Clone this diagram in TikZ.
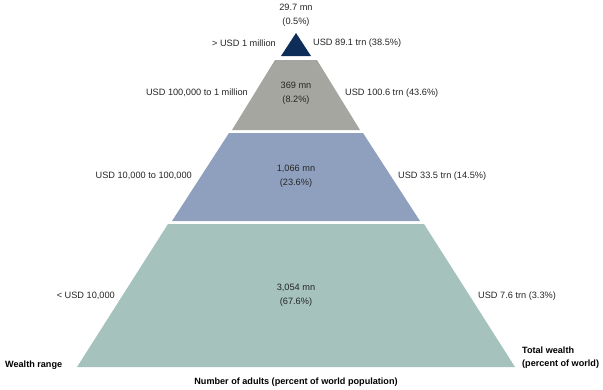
\documentclass[tikz,border=0pt]{standalone}
\usepackage{fontspec}
\setmainfont{Liberation Sans}
\usetikzlibrary{positioning}

\definecolor{richband}{RGB}{14,45,88}
\definecolor{upperband}{RGB}{166,166,160}
\definecolor{middleband}{RGB}{143,160,191}
\definecolor{lowerband}{RGB}{166,194,188}

\begin{document}
\begin{tikzpicture}[x = 1pt, y = -1pt,
                    adults/.style = {align = center,
                                    inner sep = 0pt,
                                    text = black!85,
                                    font = \fontsize{9.2}{14}\selectfont},
                    rangelabel/.style = {anchor = east,
                                    inner sep = 0pt,
                                    text = black!85,
                                    font = \fontsize{9.2}{14}\selectfont},
                    wealthlabel/.style = {anchor = west,
                                    inner sep = 0pt,
                                    text = black!85,
                                    font = \fontsize{9.2}{14}\selectfont},
                    head/.style  = {inner sep = 0pt,
                                    align = left,
                                    text = black,
                                    font = \bfseries\fontsize{9.1}{13}\selectfont}]

\useasboundingbox (0,0) rectangle (603,389);

% bands of the pyramid
\fill[richband]   (296,33) -- (311,56) -- (281,56) -- cycle;
\fill[upperband]  (275,60) -- (317,60) -- (360,130) -- (232,130) -- cycle;
\fill[middleband] (229,133) -- (363,133) -- (420,221) -- (172,221) -- cycle;
\fill[lowerband]  (168,224) -- (424,224) -- (515,367) -- (77,367) -- cycle;

% adults in each band
\node[adults] (N1) at (296,15)  {29.7 mn\\(0.5\%)};
\node[adults] (N2) at (296,93)  {369 mn\\(8.2\%)};
\node[adults] (N3) at (296,176) {1,066 mn\\(23.6\%)};
\node[adults] (N4) at (296,295) {3,054 mn\\(67.6\%)};

% wealth ranges
\node[rangelabel] (R1) at (276,43)  {> USD 1 million};
\node[rangelabel] (R2) at (248,93)  {USD 100,000 to 1 million};
\node[rangelabel] (R3) at (192,176) {USD 10,000 to 100,000};
\node[rangelabel] (R4) at (115,296) {< USD 10,000};

% total wealth
\node[wealthlabel] (W1) at (313,43)  {USD 89.1 trn (38.5\%)};
\node[wealthlabel] (W2) at (345,93)  {USD 100.6 trn (43.6\%)};
\node[wealthlabel] (W3) at (398,176) {USD 33.5 trn (14.5\%)};
\node[wealthlabel] (W4) at (478,296) {USD 7.6 trn (3.3\%)};

% headings
\node[head, anchor = west] (Hrange)  at (5,365)   {Wealth range};
\node[head, anchor = west] (Htotal)  at (522,358) {Total wealth\\(percent of world)};
\node[head]                (Hadults) at (296,382) {Number of adults (percent of world population)};

\end{tikzpicture}
\end{document}
